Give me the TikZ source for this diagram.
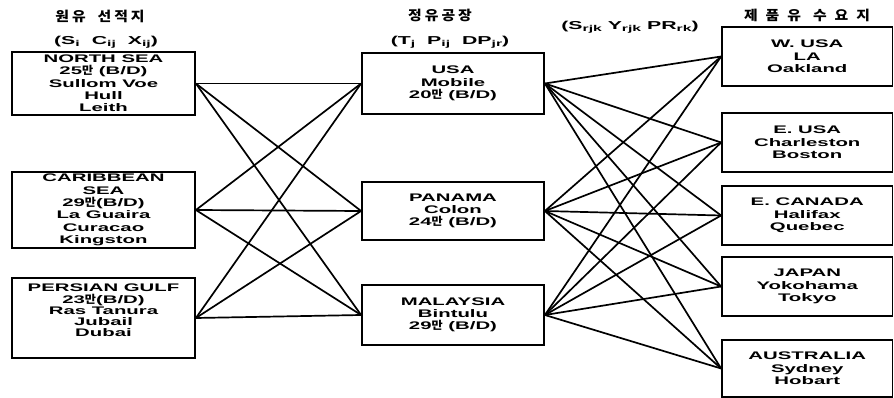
\documentclass[tikz,border=0pt]{standalone}
\usepackage{fontspec}
\newfontfamily\lat[FakeStretch=1.85]{Liberation Sans}
\newfontfamily\kor[FakeStretch=1.1]{Noto Sans CJK KR}
\newcommand{\mnk}{{\kor 만}}
\newcommand{\sbs}[1]{\raisebox{-1.5pt}{\fontsize{8.5}{8.5}\selectfont #1}}
\newcommand{\kg}{\hspace{3pt}}
\newcommand{\kw}{\hspace{12pt}}
\begin{document}
\begin{tikzpicture}[x=1pt,y=-1pt,
  basebox/.style={draw, line width=1.8pt, inner sep=0pt, align=center,
    font=\lat\bfseries\fontsize{11}{12.3}\selectfont},
  lbox/.style={basebox, minimum width=183pt},
  mbox/.style={basebox, minimum width=182pt},
  rbox/.style={basebox, minimum width=170.5pt},
  head/.style={inner sep=0pt, font=\kor\bfseries\fontsize{13.5}{14}\selectfont},
  subhead/.style={inner sep=0pt, font=\lat\bfseries\fontsize{11.5}{12}\selectfont},
  link/.style={line width=1.7pt}]
\useasboundingbox (0,0) rectangle (894,398);

% headings
\node[head] (h1) at (100,16) {원\kg 유\kw 선\kg 적\kg 지};
\node[subhead] (s1) at (106,42) {(S\sbs{i}\hspace{12pt}C\sbs{ij}\hspace{12pt}X\sbs{ij})};
\node[head] (h2) at (440,15) {정\kg 유\kg 공\kg 장};
\node[subhead] (s2) at (450,42) {(T\sbs{j}\hspace{12pt}P\sbs{ij}\hspace{12pt}DP\sbs{jr})};
\node[subhead] (s3) at (630,27) {(S\sbs{rjk} Y\sbs{rjk} PR\sbs{rk})};
\node[head] (h4) at (807,15) {제\hspace{8pt}품\hspace{8pt}유\kw 수\hspace{8pt}요\hspace{8pt}지};

% left boxes
\node[lbox, minimum height=63pt] (ns) at (103.5,83.5)
  {NORTH SEA\\25\mnk{} (B/D)\\Sullom Voe\\Hull\\Leith};
\node[lbox, minimum height=76pt] (cs) at (103.5,210)
  {CARIBBEAN\\SEA\\29\mnk{}(B/D)\\La Guaira\\Curacao\\Kingston};
\node[lbox, minimum height=80pt, font=\lat\bfseries\fontsize{11}{11.2}\selectfont] (pg) at (103.5,318)
  {PERSIAN GULF\\23\mnk{}(B/D)\\Ras Tanura\\Jubail\\Dubai\\[4pt]};

% middle boxes
\node[mbox, minimum height=61pt] (usa) at (453,83.5) {USA\\Mobile\\20\mnk{} (B/D)};
\node[mbox, minimum height=58pt] (pan) at (453,211) {PANAMA\\Colon\\24\mnk{} (B/D)};
\node[mbox, minimum height=60pt] (mal) at (453,315) {MALAYSIA\\Bintulu\\29\mnk{} (B/D)};

% right boxes
\node[rbox, minimum height=59pt] (wu) at (807.25,56.5) {W. USA\\LA\\Oakland};
\node[rbox, minimum height=59pt] (eu) at (807.25,142.5) {E. USA\\Charleston\\Boston};
\node[rbox, minimum height=59pt] (ec) at (807.25,215.5) {E. CANADA\\Halifax\\Quebec};
\node[rbox, minimum height=59pt] (jp) at (807.25,286.5) {JAPAN\\Yokohama\\Tokyo};
\node[rbox, minimum height=57pt] (au) at (807.25,368.5) {AUSTRALIA\\Sydney\\Hobart};

% connectors left -> middle
\foreach \a in {ns,cs,pg}
  \foreach \b in {usa,pan,mal}
    \draw[link] (\a.east) -- (\b.west);
% connectors middle -> right
\foreach \a in {usa,pan,mal}
  \foreach \b in {wu,eu,ec,jp,au}
    \draw[link] (\a.east) -- (\b.west);
\end{tikzpicture}
\end{document}
